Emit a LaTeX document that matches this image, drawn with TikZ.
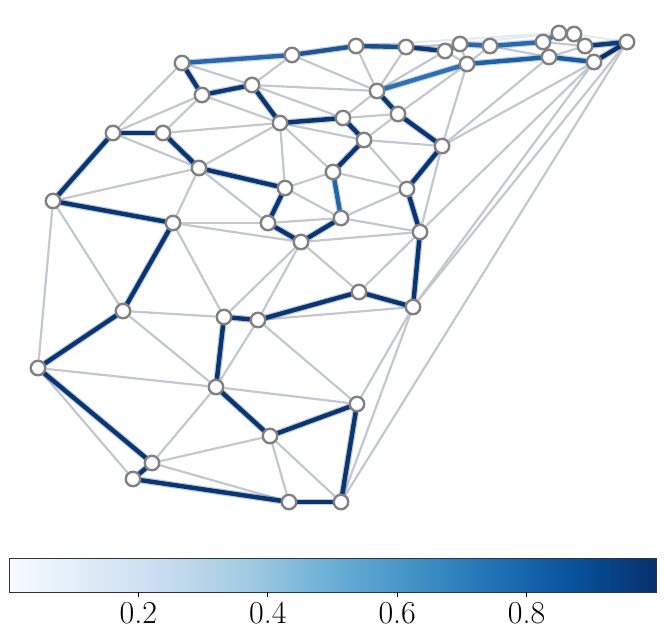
\documentclass[tikz,border=0pt]{standalone}
\pgfdeclarelayer{background}
\pgfdeclarelayer{glow}
\pgfsetlayers{background,glow,main}
\definecolor{lightedge}{HTML}{C3C8CE}
\definecolor{faintedge}{HTML}{E3EAF2}
\definecolor{vgray}{HTML}{808080}
\definecolor{bA}{HTML}{F7FBFF}
\definecolor{bB}{HTML}{DEEBF7}
\definecolor{bC}{HTML}{C6DBEF}
\definecolor{bD}{HTML}{9ECAE1}
\definecolor{bE}{HTML}{6BAED6}
\definecolor{bF}{HTML}{4292C6}
\definecolor{bG}{HTML}{2171B5}
\definecolor{bH}{HTML}{08519C}
\definecolor{bI}{HTML}{08306B}
\tikzset{
  vtx/.style={circle, draw=vgray, line width=2.4pt, fill=white, inner sep=0pt, minimum size=14.5pt},
  ledge/.style={draw=lightedge, line width=2.2pt},
  fedge/.style={draw=faintedge, line width=2.0pt},
  tedge/.style={line width=4.4pt, line cap=round},
  tglow/.style={line width=6.8pt, line cap=round, opacity=0.25},
  ticklab/.style={font=\fontsize{32}{34}\selectfont, inner sep=0pt}
}
\begin{document}
\begin{tikzpicture}[x=1pt,y=-1pt]
\useasboundingbox (0,0) rectangle (665,638);
% vertices
\foreach \n/\px/\py in {n1/182/63, n2/292/55, n3/202/95, n4/252/85, n5/280/123, n6/113/133,
  n7/163/133, n8/199/168, n9/285/188, n10/53/201, n11/173/223, n12/268/223, n13/301/242,
  n14/356/46, n15/406/47, n16/445/51, n17/460/44, n18/490/46, n19/467/64, n20/377/91,
  n21/398/114, n22/343/118, n23/364/140, n24/442/146, n25/333/172, n26/407/189, n27/341/218,
  n28/420/232, n29/359/292, n30/413/307, n31/543/42, n32/559/33, n33/574/34, n34/585/46,
  n35/549/57, n36/594/62, n37/627/42, n38/123/311, n39/224/317, n40/258/320, n41/38/368,
  n42/216/387, n43/357/404, n44/270/436, n45/152/463, n46/133/479, n47/289/502, n48/341/502}
  \node[vtx] (\n) at (\px,\py) {};
\begin{pgfonlayer}{background}
% faint hull edges
\foreach \a/\b in {n14/n32, n17/n32, n33/n37}
  \draw[fedge] (\a) -- (\b);
% light edges
\foreach \a/\b in {n1/n4, n1/n6, n2/n4, n2/n20, n14/n20, n15/n20, n16/n20, n15/n17,
  n16/n19, n17/n19, n18/n19, n18/n35, n31/n35, n31/n34, n34/n35, n34/n36,
  n24/n35, n24/n36, n24/n28, n28/n36, n36/n30, n37/n30, n37/n48,
  n4/n20, n4/n22, n20/n22, n21/n22, n21/n23, n21/n19, n19/n24, n23/n24, n23/n26,
  n25/n26, n26/n27, n27/n28, n5/n23, n5/n25, n5/n9, n5/n8, n5/n7, n3/n5, n3/n6, n3/n7,
  n6/n8, n8/n10, n8/n11, n8/n12, n9/n25, n9/n27, n12/n27, n11/n12, n11/n13, n13/n28,
  n13/n29, n28/n29, n11/n39, n13/n39, n13/n40, n40/n30, n30/n43, n30/n48, n40/n43,
  n40/n42, n42/n43, n38/n39, n38/n42, n10/n38, n10/n41, n41/n42, n41/n46, n42/n45,
  n44/n45, n44/n47, n44/n48, n45/n47}
  \draw[ledge] (\a) -- (\b);
\end{pgfonlayer}
% tour edges
\foreach \a/\b/\c in {n1/n2/2D66A8, n2/n14/215495, n14/n15/1C4E90, n15/n16/0D3A77,
  n16/n17/113F7D, n17/n18/2A69AD, n18/n31/2A6BAF, n31/n32/3676B6, n32/n33/3676B6,
  n33/n34/2A69AD, n34/n37/0D3A78, n37/n36/08306B, n36/n35/1A5AA0, n35/n19/1F5FA6,
  n19/n20/2E70B1, n20/n21/0A3573, n21/n24/0A3573, n24/n26/0A3573, n26/n28/0A3573,
  n28/n30/0A3573, n30/n29/0A3573, n29/n40/0A3573, n40/n39/0A3573, n39/n42/0A3573,
  n42/n44/0A3573, n44/n43/0A3573, n43/n48/0A3573, n48/n47/0A3573, n47/n46/0A3573,
  n46/n45/0A3573, n45/n41/0A3573, n41/n38/0A3573, n38/n11/0A3573, n11/n10/0A3573,
  n10/n6/0A3573, n6/n7/0A3573, n7/n8/0A3573, n8/n9/0A3573, n9/n12/0A3573,
  n12/n13/0A3573, n13/n27/0A3573, n27/n25/2265AB, n25/n23/0A3573, n23/n22/0A3573,
  n22/n5/0A3573, n5/n4/0A3573, n4/n3/0C3875, n3/n1/0A3573}
  {\definecolor{tc}{HTML}{\c}%
   \begin{pgfonlayer}{glow}
   \draw[tglow, draw=tc] (\a) -- (\b);
   \draw[tedge, draw=tc] (\a) -- (\b);
   \end{pgfonlayer}}
% colour bar
\shade[left color=bA, right color=bB] (9,558) rectangle (89.875,592);
\shade[left color=bB, right color=bC] (89.875,558) rectangle (170.75,592);
\shade[left color=bC, right color=bD] (170.75,558) rectangle (251.625,592);
\shade[left color=bD, right color=bE] (251.625,558) rectangle (332.5,592);
\shade[left color=bE, right color=bF] (332.5,558) rectangle (413.375,592);
\shade[left color=bF, right color=bG] (413.375,558) rectangle (494.25,592);
\shade[left color=bG, right color=bH] (494.25,558) rectangle (575.125,592);
\shade[left color=bH, right color=bI] (575.125,558) rectangle (656,592);
\draw[line width=0.9pt, draw=black!80] (9,558) rectangle (656,592);
\foreach \v/\px in {0.2/138.4, 0.4/267.8, 0.6/397.2, 0.8/526.6} {
  \draw[line width=0.9pt] (\px,592) -- (\px,597);
  \node[ticklab, anchor=north] (cb\px) at (\px,602) {\v};
}
\end{tikzpicture}
\end{document}
